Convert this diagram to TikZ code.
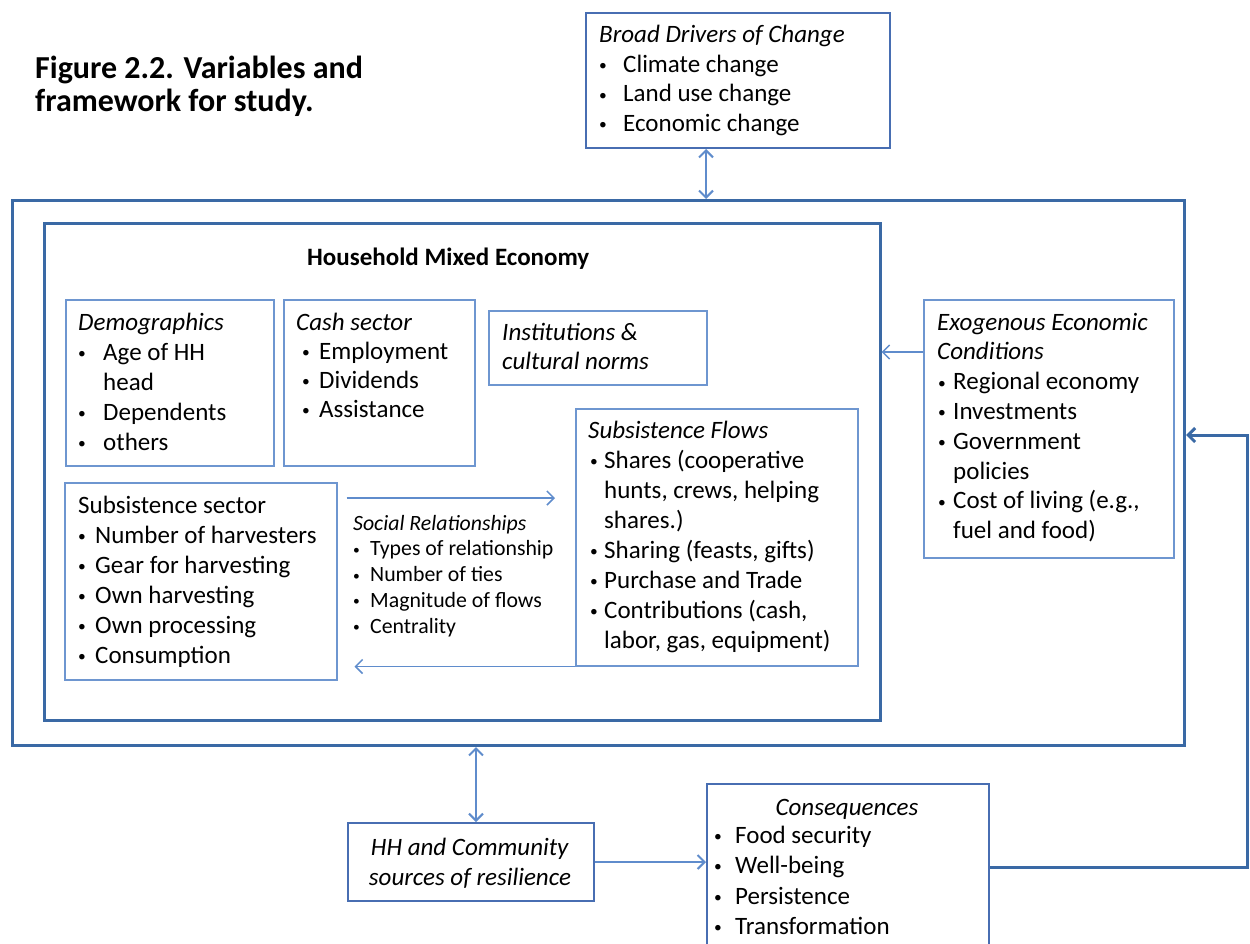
\documentclass[tikz,border=0pt]{standalone}
\usepackage{fontspec}
\setmainfont{Carlito}
\usetikzlibrary{arrows.meta,calc}
\definecolor{outerc}{RGB}{58,105,165}
\definecolor{drvc}{RGB}{72,110,178}
\definecolor{boxc}{RGB}{110,150,208}
\definecolor{arrc}{RGB}{95,140,204}
\newcommand\bu[2]{\hspace*{#1}\makebox[#2][l]{\raisebox{0.07em}{\scalebox{0.62}{•}}}}
\newcommand\hind[1]{\hspace*{#1}}
\begin{document}
\begin{tikzpicture}[x=1pt,y=-1pt,
  anybox/.style={draw, rectangle, inner sep=0pt, anchor=north west},
  outerbox/.style={anybox, draw=outerc, line width=3pt},
  hmebox/.style={anybox, draw=outerc, line width=2.5pt},
  drvbox/.style={anybox, draw=drvc, line width=2pt},
  inbox/.style={anybox, draw=boxc, line width=1.5pt},
  txt/.style={inner sep=0pt, anchor=north west, align=left},
  body/.style={font=\fontsize{25}{30}\selectfont},
  conn/.style={draw=arrc, line width=2pt},
  tip/.style={-{Straight Barb[length=7pt,width=14pt]}},
  dtip/.style={{Straight Barb[length=7pt,width=14pt]}-{Straight Barb[length=7pt,width=14pt]}},
]
\useasboundingbox (0,0) rectangle (1250,943);
\fill[white] (0,0) rectangle (1250,943);

% boxes
\node[drvbox, minimum width=304pt, minimum height=135pt] (drivers) at (585,12) {};
\node[outerbox, minimum width=1172pt, minimum height=545pt] (outer) at (11,199) {};
\node[hmebox, minimum width=836pt, minimum height=497pt] (hme) at (43,222) {};
\node[inbox, minimum width=208pt, minimum height=166pt] (demo) at (65,299) {};
\node[inbox, minimum width=191pt, minimum height=166pt] (cash) at (283,299) {};
\node[inbox, minimum width=218pt, minimum height=74pt] (inst) at (488,310) {};
\node[inbox, minimum width=272pt, minimum height=197pt] (subs) at (64,482) {};
\node[inbox, minimum width=282pt, minimum height=257pt] (flows) at (575,408) {};
\node[inbox, minimum width=250pt, minimum height=258pt] (exo) at (923,299) {};
\node[drvbox, minimum width=246pt, minimum height=78pt] (hh) at (347,822) {};
\node[drvbox, minimum width=282pt, minimum height=185pt] (cons) at (706,783) {};

% texts
\node[txt, font=\bfseries\fontsize{32}{30}\selectfont] (figt) at (35,56)
  {\strut Figure 2.2. Variables and\\framework for study.};
\node[txt, font=\fontsize{25}{29.5}\selectfont] (drvt) at (599,22)
  {\strut\textit{Broad Drivers of Change}\\
   \bu{0pt}{24pt}Climate change\\
   \bu{0pt}{24pt}Land use change\\
   \bu{0pt}{24pt}Economic change};
\node[inner sep=0pt, anchor=base west, font=\bfseries\fontsize{25}{30}\selectfont] (hmet) at (307,265)
  {Household Mixed Economy};
\node[txt, body] (demot) at (78,309)
  {\strut\textit{Demographics}\\
   \bu{0pt}{25pt}Age of HH\\
   \hind{25pt}head\\
   \bu{0pt}{25pt}Dependents\\
   \bu{0pt}{25pt}others};
\node[txt, font=\fontsize{25}{29}\selectfont] (casht) at (296,309.7)
  {\strut\textit{Cash sector}\\
   \bu{6pt}{17pt}Employment\\
   \bu{6pt}{17pt}Dividends\\
   \bu{6pt}{17pt}Assistance};
\node[txt, font=\fontsize{25}{29}\selectfont] (instt) at (502,319.7)
  {\strut\textit{Institutions \&}\\\textit{cultural norms}};
\node[txt, body] (subst) at (78,492)
  {\strut Subsistence sector\\
   \bu{0pt}{17pt}Number of harvesters\\
   \bu{0pt}{17pt}Gear for harvesting\\
   \bu{0pt}{17pt}Own harvesting\\
   \bu{0pt}{17pt}Own processing\\
   \bu{0pt}{17pt}Consumption};
\node[txt, body] (flowt) at (588,417)
  {\strut\textit{Subsistence Flows}\\
   \bu{2pt}{14pt}Shares (cooperative\\
   \hind{16pt}hunts, crews, helping\\
   \hind{16pt}shares.)\\
   \bu{2pt}{14pt}Sharing (feasts, gifts)\\
   \bu{2pt}{14pt}Purchase and Trade\\
   \bu{2pt}{14pt}Contributions (cash,\\
   \hind{16pt}labor, gas, equipment)};
\node[txt, font=\fontsize{21.8}{25.7}\selectfont] (soct) at (353,512)
  {\strut\textit{Social Relationships}\\
   \bu{0pt}{17pt}Types of relationship\\
   \bu{0pt}{17pt}Number of ties\\
   \bu{0pt}{17pt}Magnitude of flows\\
   \bu{0pt}{17pt}Centrality};
\node[txt, font=\fontsize{25}{29.8}\selectfont] (exot) at (937,309.1)
  {\strut\textit{Exogenous Economic}\\
   \textit{Conditions}\\
   \bu{1pt}{15pt}Regional economy\\
   \bu{1pt}{15pt}Investments\\
   \bu{1pt}{15pt}Government\\
   \hind{16pt}policies\\
   \bu{1pt}{15pt}Cost of living (e.g.,\\
   \hind{16pt}fuel and food)};
\node[inner sep=0pt, anchor=base, body] (const) at (847,815)
  {\textit{Consequences}};
\node[txt, font=\fontsize{25}{30.5}\selectfont] (consb) at (714,821.65)
  {\strut\bu{0pt}{21pt}Food security\\
   \bu{0pt}{21pt}Well-being\\
   \bu{0pt}{21pt}Persistence\\
   \bu{0pt}{21pt}Transformation};
\node[inner sep=0pt, anchor=north, align=center, body] (hht) at (470,834)
  {\strut\textit{HH and Community}\\\textit{sources of resilience}};

% connectors
\draw[conn, dtip] ([xshift=-32pt]drivers.south) -- ([xshift=-32pt]drivers.south |- outer.north);
\draw[conn, dtip] ([xshift=5pt]hh.north |- outer.south) -- ([xshift=5pt]hh.north);
\draw[conn, tip, line width=1.5pt] (exo.west |- 0,352) -- (hme.east |- 0,352);
\draw[conn, tip, line width=1.5pt] ([xshift=9pt]subs.east |- 0,498) -- ([xshift=-20pt]flows.west |- 0,498);
\draw[conn, tip, line width=1.5pt] (flows.south west) -- ([xshift=17pt]subs.east |- flows.south west);
\draw[conn, tip] (hh.east) -- (cons.west |- hh.east);
\draw[draw=outerc, line width=3pt, tip] ([yshift=-84pt]cons.north east) -- (1247,867) -- (1247,435) -- (outer.east |- 0,435);
\end{tikzpicture}
\end{document}
